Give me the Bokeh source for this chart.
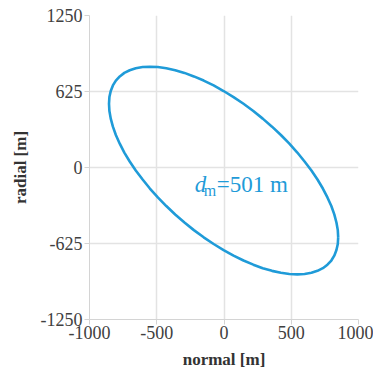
from bokeh.plotting import figure
from bokeh.models import FixedTicker, Range1d, Label, ColumnDataSource
from bokeh.embed import file_html
from bokeh.resources import INLINE

# Ellipse outline (normal, radial) in metres
normal = [849, 846, 836, 820, 798, 769, 735, 695, 650, 599, 545, 486, 423, 357, 288, 218, 145, 71,
          -3, -77, -151, -224, -294, -363, -429, -492, -551, -605, -656, -701, -741, -775, -804,
          -826, -842, -852, -855, -852, -842, -826, -804, -775, -741, -701, -656, -605, -551, -492,
          -429, -363, -294, -224, -151, -77, -3, 71, 145, 218, 288, 357, 423, 486, 545, 599, 650,
          695, 735, 769, 798, 820, 836, 846, 849]
radial = [-574, -515, -452, -386, -317, -246, -173, -99, -25, 49, 123, 196, 267, 336, 402, 465, 524,
          579, 629, 675, 715, 749, 778, 800, 816, 826, 829, 826, 816, 800, 778, 749, 715, 675, 629,
          579, 524, 465, 402, 336, 267, 196, 123, 49, -25, -99, -173, -246, -317, -386, -452, -515,
          -574, -629, -679, -725, -765, -799, -828, -850, -866, -876, -879, -876, -866, -850, -828,
          -799, -765, -725, -679, -629, -574]

x_ticks = [-1000, -500, 0, 500, 1000]
x_tick_labels = ["-1000", "-500", "0", "500", "1000"]
y_ticks = [-1250, -625, 0, 625, 1250]
y_tick_labels = ["-1250", "-625", "0", "625", "1250"]
label_main = "=501 m"

FONT = "Liberation Serif"
BLUE = "#1f9bd8"
GRID = "#e3e3e3"
TXT = "#404040"

p = figure(width=373, height=371, output_backend="svg", toolbar_location=None,
           x_range=Range1d(-1000, 1000), y_range=Range1d(-1250, 1250),
           min_border=0, min_border_left=89, min_border_top=15, min_border_right=15,
           min_border_bottom=49)
p.outline_line_color = None
p.background_fill_color = "white"
p.border_fill_color = "white"

src = ColumnDataSource(dict(x=normal, y=radial))
p.line("x", "y", source=src, line_color=BLUE, line_width=2.6, line_join="round")

for ax, ticks, labels in ((p.xaxis[0], x_ticks, x_tick_labels), (p.yaxis[0], y_ticks, y_tick_labels)):
    ax.ticker = FixedTicker(ticks=ticks)
    ax.major_label_overrides = {t: s for t, s in zip(ticks, labels)}
    ax.minor_tick_line_color = None
    ax.axis_line_color = "#d4d4d4"
    ax.major_tick_line_color = "#d4d4d4"
    ax.major_tick_out = 5
    ax.major_tick_in = 0
    ax.major_label_text_font = FONT
    ax.major_label_text_font_size = "18px"
    ax.major_label_text_color = TXT
    ax.axis_label_text_font = FONT
    ax.axis_label_text_font_size = "17px"
    ax.axis_label_text_font_style = "bold"
    ax.axis_label_text_color = "#333333"

p.xaxis[0].axis_label = "normal [m]"
p.yaxis[0].axis_label = "radial [m]"
p.xaxis[0].major_label_standoff = 1
p.yaxis[0].major_label_standoff = 2
p.xaxis[0].axis_label_standoff = 8
p.yaxis[0].axis_label_standoff = 8

p.xgrid.ticker = FixedTicker(ticks=x_ticks)
p.ygrid.ticker = FixedTicker(ticks=y_ticks)
p.grid.grid_line_color = GRID
p.grid.grid_line_width = 1.5

lx, ly = -218, -140
p.add_layout(Label(x=lx, y=ly, text="d", text_font=FONT, text_font_style="italic",
                   text_font_size="23px", text_color=BLUE, text_baseline="alphabetic"))
p.add_layout(Label(x=lx, y=ly, x_offset=9, y_offset=-6, text="m", text_font=FONT,
                   text_font_size="16px", text_color=BLUE, text_baseline="alphabetic"))
p.add_layout(Label(x=lx, y=ly, x_offset=22, text=label_main, text_font=FONT,
                   text_font_size="23px", text_color=BLUE, text_baseline="alphabetic"))

open("out.html", "w").write(file_html(p, INLINE))
